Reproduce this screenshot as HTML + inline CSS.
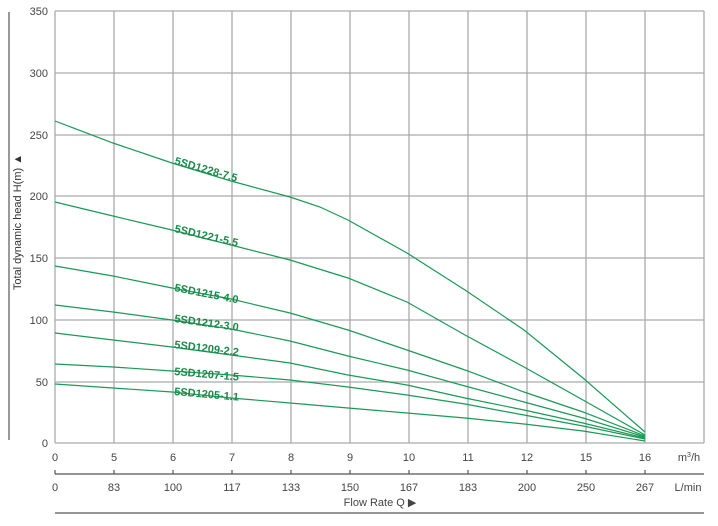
<!DOCTYPE html>
<html><head><meta charset="utf-8"><style>
body{margin:0;background:#fff;}
svg{display:block;font-family:"Liberation Sans",sans-serif;}
</style></head><body>
<svg width="718" height="526" viewBox="0 0 718 526">
<g stroke="#aaa" stroke-width="1.3">
<line x1="55" y1="11" x2="704" y2="11"/><line x1="55" y1="73" x2="704" y2="73"/>
<line x1="55" y1="135" x2="704" y2="135"/><line x1="55" y1="196" x2="704" y2="196"/>
<line x1="55" y1="258" x2="704" y2="258"/><line x1="55" y1="320" x2="704" y2="320"/>
<line x1="55" y1="382" x2="704" y2="382"/><line x1="55" y1="443" x2="704" y2="443"/>
<line x1="55" y1="11" x2="55" y2="443"/><line x1="114" y1="11" x2="114" y2="443"/>
<line x1="173" y1="11" x2="173" y2="443"/><line x1="232" y1="11" x2="232" y2="443"/>
<line x1="291" y1="11" x2="291" y2="443"/><line x1="350" y1="11" x2="350" y2="443"/>
<line x1="409" y1="11" x2="409" y2="443"/><line x1="468" y1="11" x2="468" y2="443"/>
<line x1="527" y1="11" x2="527" y2="443"/><line x1="586" y1="11" x2="586" y2="443"/>
<line x1="645" y1="11" x2="645" y2="443"/><line x1="704" y1="11" x2="704" y2="443"/>
</g>
<g font-size="11" fill="#444" text-anchor="end">
<text x="48" y="15">350</text><text x="48" y="77">300</text><text x="48" y="139">250</text>
<text x="48" y="200">200</text><text x="48" y="262">150</text><text x="48" y="324">100</text>
<text x="48" y="386">50</text><text x="48" y="447">0</text>
</g>
<line x1="9" y1="12" x2="9" y2="440" stroke="#333" stroke-width="1"/>
<text transform="translate(21,222) rotate(-90)" font-size="11" fill="#333" text-anchor="middle">Total dynamic head H(m)  ▲</text>
<g fill="none" stroke="#1a9a55" stroke-width="1.2">
<polyline points="55,121 113,143 172,163 231,181 290,197 320,207 348,220 407,253 465,290 524,330 583,378 645,432"/>
<polyline points="55,202 113,216 172,230 231,245 290,260 348,278 407,302 465,335 524,367 583,400 645,435"/>
<polyline points="55,266 113,276 172,288 231,299 290,313 348,330 407,350 465,370 524,392 583,412 645,436"/>
<polyline points="55,305 113,312 172,320 231,329 290,341 348,356 407,370 465,386 524,402 583,418 645,437"/>
<polyline points="55,333 113,340 172,347 231,355 290,363 348,375 407,385 465,398 524,410 583,423 645,438"/>
<polyline points="55,364 113,367 172,371 231,375 290,380 348,387 407,395 465,404 524,415 583,426 645,439"/>
<polyline points="55,384 113,388 172,392 231,398 290,403 348,408 407,413 465,418 524,424 583,431 645,441"/>
</g>
<g font-size="11" font-weight="bold" fill="#1a8a4a">
<text transform="translate(174,164) rotate(16)">5SD1228-7.5</text>
<text transform="translate(174,232) rotate(13)">5SD1221-5.5</text>
<text transform="translate(174,291) rotate(11)">5SD1215-4.0</text>
<text transform="translate(174,322) rotate(8)">5SD1212-3.0</text>
<text transform="translate(174,348) rotate(7)">5SD1209-2.2</text>
<text transform="translate(174,375) rotate(5)">5SD1207-1.5</text>
<text transform="translate(174,395) rotate(5)">5SD1205-1.1</text>
</g>
<g font-size="11" fill="#444" text-anchor="middle">
<text x="55" y="461">0</text><text x="114" y="461">5</text><text x="173" y="461">6</text>
<text x="232" y="461">7</text><text x="291" y="461">8</text><text x="350" y="461">9</text>
<text x="409" y="461">10</text><text x="468" y="461">11</text><text x="527" y="461">12</text>
<text x="586" y="461">15</text><text x="645" y="461">16</text>
<text x="689" y="461">m<tspan font-size="7" dy="-4">3</tspan><tspan dy="4">/h</tspan></text>
<text x="55" y="491">0</text><text x="114" y="491">83</text><text x="173" y="491">100</text>
<text x="232" y="491">117</text><text x="291" y="491">133</text><text x="350" y="491">150</text>
<text x="409" y="491">167</text><text x="468" y="491">183</text><text x="527" y="491">200</text>
<text x="586" y="491">250</text><text x="645" y="491">267</text><text x="688" y="491">L/min</text>
<text x="380" y="506">Flow Rate Q  ▶</text>
</g>
<g stroke="#555" stroke-width="1.2">
<line x1="55" y1="474" x2="704" y2="474"/>
<line x1="55" y1="470" x2="55" y2="474"/><line x1="114" y1="470" x2="114" y2="474"/>
<line x1="173" y1="470" x2="173" y2="474"/><line x1="232" y1="470" x2="232" y2="474"/>
<line x1="291" y1="470" x2="291" y2="474"/><line x1="350" y1="470" x2="350" y2="474"/>
<line x1="409" y1="470" x2="409" y2="474"/><line x1="468" y1="470" x2="468" y2="474"/>
<line x1="527" y1="470" x2="527" y2="474"/><line x1="586" y1="470" x2="586" y2="474"/>
<line x1="645" y1="470" x2="645" y2="474"/>
<line x1="55" y1="513" x2="704" y2="513"/>
</g>
</svg>
</body></html>
